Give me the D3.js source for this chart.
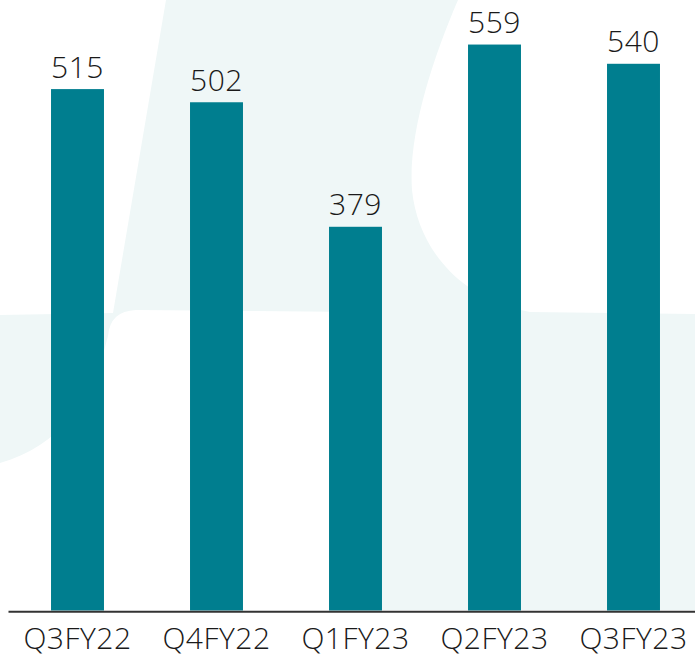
<!DOCTYPE html>
<html>
<head>
<meta charset="utf-8">
<script src="https://cdn.jsdelivr.net/npm/d3@7"></script>
<style>
  body { margin: 0; background: #fff; }
  .bar-label, .tick text { font-family: "Open Sans", sans-serif; font-size: 30px; font-weight: 300; fill: #1a1a1a; letter-spacing: 0.5px; }
</style>
</head>
<body>
<div id="chart"></div>
<script>
// Quarterly values
const quarters = ['Q3FY22', 'Q4FY22', 'Q1FY23', 'Q2FY23', 'Q3FY23'];
const values = [515, 502, 379, 559, 540];

const width = 695;
const height = 657;
const baseY = 610.5;

const svg = d3.select('#chart')
    .append('svg')
    .attr('width', width)
    .attr('height', height);

// Faint watermark shape in the background
svg.append('path')
    .attr('fill', '#eff7f7')
    .attr('d', 'M0,315 L113,313 L166,0 L458,0 C432,60 408,135 412,190 ' +
        'C418,250 462,300 530,312 L695,314 L695,610 L360,610 L360,312 ' +
        'L136,310 Q110,311 108,336 C92,400 60,446 0,463 Z');

const x = d3.scaleBand()
    .domain(quarters)
    .range([8, 703])
    .paddingInner(0.619)
    .paddingOuter(0.3095);

const y = d3.scaleLinear()
    .domain([0, 603])
    .range([baseY, 0]);

// Bars
svg.selectAll('.bar')
    .data(values)
    .enter()
    .append('rect')
    .attr('class', 'bar')
    .attr('x', (d, i) => x(quarters[i]))
    .attr('y', d => y(d))
    .attr('width', x.bandwidth())
    .attr('height', d => baseY - y(d))
    .attr('fill', '#007e8f');

// Value labels above bars
svg.selectAll('.bar-label')
    .data(values)
    .enter()
    .append('text')
    .attr('class', 'bar-label')
    .attr('x', (d, i) => x(quarters[i]) + x.bandwidth() / 2)
    .attr('y', d => y(d) - 11.5)
    .attr('text-anchor', 'middle')
    .text(d => d);

// Category axis
const axis = svg.append('g')
    .attr('transform', 'translate(0,611.3)')
    .call(d3.axisBottom(x).tickSize(0).tickSizeOuter(0));

axis.select('.domain')
    .attr('stroke', '#333')
    .attr('stroke-width', 2);

axis.selectAll('.tick text')
    .attr('dy', 0)
    .attr('y', 37.5)
    .attr('font-family', null)
    .attr('font-size', null);
</script>
</body>
</html>
